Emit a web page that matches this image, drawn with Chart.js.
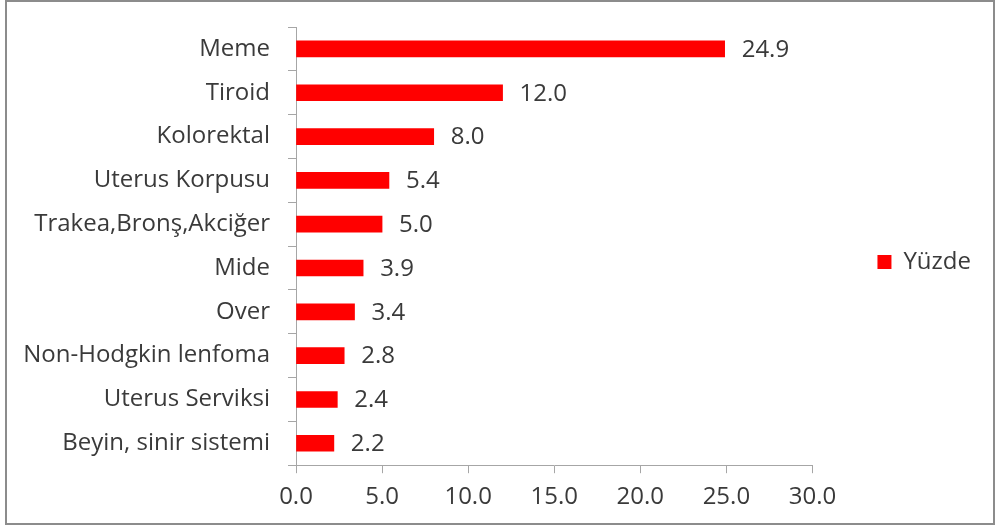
<!DOCTYPE html>
<html>
<head>
<meta charset="utf-8">
<script src="https://cdn.jsdelivr.net/npm/chart.js@4/dist/chart.umd.min.js"></script>
<style>
    body { margin: 0; background: #fff; }
    #frame {
        position: absolute; left: 5px; top: 0px;
        width: 986px; height: 521px;
        border: 2px solid #8c8c8c;
        background: #fff;
    }
</style>
</head>
<body>
<div id="frame"><canvas id="chart" width="986" height="521"></canvas></div>
<script>
const categories = ['Meme', 'Tiroid', 'Kolorektal', 'Uterus Korpusu', 'Trakea,Bronş,Akciğer',
    'Mide', 'Over', 'Non-Hodgkin lenfoma', 'Uterus Serviksi', 'Beyin, sinir sistemi'];
const yuzde = [24.9, 12.0, 8.0, 5.4, 5.0, 3.9, 3.4, 2.8, 2.4, 2.2];
const xTicks = [0, 5, 10, 15, 20, 25, 30];

const textColor = '#3a3a3a';
const axisColor = '#a6a6a6';
const font = { family: 'Open Sans', size: 24 };

// value labels to the right of each bar
const valueLabels = {
    id: 'valueLabels',
    afterDatasetsDraw(chart) {
        const ctx = chart.ctx;
        const meta = chart.getDatasetMeta(0);
        ctx.save();
        ctx.font = `${font.size}px ${font.family}`;
        ctx.fillStyle = textColor;
        ctx.textAlign = 'left';
        ctx.textBaseline = 'middle';
        meta.data.forEach((bar, i) => {
            ctx.fillText(yuzde[i].toFixed(1), bar.x + 17, bar.y + 1);
        });
        ctx.restore();
    }
};

new Chart(document.getElementById('chart').getContext('2d'), {
    type: 'bar',
    data: {
        labels: categories,
        datasets: [{
            label: 'Yüzde',
            data: yuzde,
            backgroundColor: '#ff0000',
            barThickness: 16
        }]
    },
    options: {
        indexAxis: 'y',
        responsive: false,
        animation: false,
        layout: { padding: { left: 0, top: 0, right: 12, bottom: 1 } },
        scales: {
            x: {
                min: 0,
                max: 30,
                afterBuildTicks: scale => { scale.ticks = xTicks.map(v => ({ value: v })); },
                grid: { drawOnChartArea: false, tickLength: 8, color: axisColor },
                border: { color: axisColor },
                ticks: {
                    color: textColor, font: font, padding: 10, maxRotation: 0,
                    callback: v => Number(v).toFixed(1)
                }
            },
            y: {
                afterFit: scale => {
                    scale.width = 289;
                    scale.paddingTop = 25;
                    scale.paddingBottom = 0;
                },
                grid: { drawOnChartArea: false, tickLength: 8, color: axisColor },
                border: { color: axisColor },
                ticks: { color: textColor, font: font, padding: 18 }
            }
        },
        plugins: {
            legend: {
                position: 'right',
                labels: {
                    color: textColor, font: font,
                    boxWidth: 14, boxHeight: 14, padding: 65
                }
            },
            tooltip: { enabled: false }
        }
    },
    plugins: [valueLabels]
});
</script>
</body>
</html>
